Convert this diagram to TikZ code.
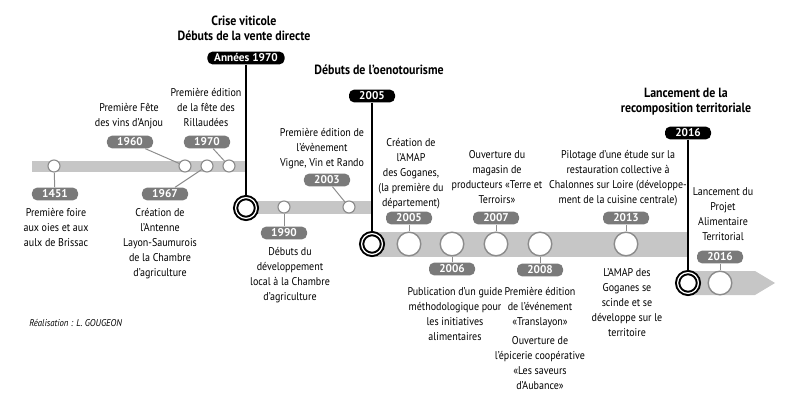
\documentclass[tikz,border=0pt]{standalone}
\usepackage{fontspec}
\setmainfont{PT Sans}[FakeStretch=0.89]
\newfontfamily\pillfont{PT Sans}
\usepackage{xcolor}
\definecolor{BandGray}{RGB}{198,198,198}
\definecolor{PillGray}{RGB}{122,122,122}
\definecolor{RingGray}{RGB}{140,140,140}
\usepackage{tikz}
\usetikzlibrary{positioning}

\begin{document}
\begin{tikzpicture}[
  x=0.025cm, y=-0.025cm,
  band/.style={
    fill=BandGray},
  dot/.style={
    circle, draw=RingGray, fill=white,
    line width=0.8pt, inner sep=0pt,
    minimum size=0.3cm},
  bigdot/.style={
    dot, line width=1pt,
    minimum size=0.59cm},
  milestone/.style={
    circle, draw=black, fill=white,
    double=white, double distance=0.9pt,
    line width=1.4pt, inner sep=0pt,
    minimum size=0.52cm},
  year/.style={
    fill=PillGray, text=white,
    rounded corners=0.13cm, inner sep=0pt,
    minimum width=1.15cm, minimum height=0.32cm,
    font=\pillfont\fontsize{8}{8}\selectfont\bfseries},
  era/.style={
    year, fill=black},
  event/.style={
    align=center, anchor=north, inner sep=0pt,
    font=\fontsize{8}{10.7}\selectfont},
  headline/.style={
    event, font=\fontsize{9.5}{10.7}\selectfont\bfseries},
  link/.style={
    RingGray, line width=0.7pt},
  mline/.style={
    black, line width=1.2pt}
]
\useasboundingbox (0,0) rectangle (800,407);

\fill[band] (32,161) rectangle (246,172);
\fill[band] (246,201) rectangle (372,214);
\fill[band] (372,232) rectangle (688,257);
\fill[band] (688,271) -- (755,271) -- (775,283)
  -- (755,295) -- (688,295) -- cycle;

\node[dot] (c1451) at (54,166) {};
\node[dot] (c1960) at (185,166) {};
\node[dot] (c1967) at (207,166) {};
\node[dot] (c1970) at (229,166) {};
\node[dot] (c1990) at (284,207) {};
\node[dot] (c2003) at (349,207) {};
\node[bigdot] (c2005) at (409,244) {};
\node[bigdot] (c2006) at (452,244) {};
\node[bigdot] (c2007) at (496,244) {};
\node[bigdot] (c2008) at (540,244) {};
\node[bigdot] (c2013) at (626,244) {};
\node[bigdot] (c2016) at (720,283) {};

\node[milestone] (b1970) at (246,208) {};
\node[milestone] (b2005) at (372,244) {};
\node[milestone] (b2016) at (688,283) {};

\node[year] (p1451) at (55,194) {1451};
\node[year] (p1960) at (130,142) {1960};
\node[year] (p1970) at (207,142) {1970};
\node[year] (p1967) at (165,194) {1967};
\node[year] (p1990) at (284,233) {1990};
\node[year] (p2003) at (327,180) {2003};
\node[year] (p2005) at (409,218) {2005};
\node[year] (p2006) at (452,269) {2006};
\node[year] (p2007) at (496,218) {2007};
\node[year] (p2008) at (540,270) {2008};
\node[year] (p2013) at (626,218) {2013};
\node[year] (p2016) at (720,257) {2016};

\node[era, minimum width=1.93cm] (m1970) at (246,58) {Années 1970};
\node[era] (m2005) at (372,96) {2005};
\node[era] (m2016) at (688,133) {2016};

\foreach \p/\c in
  {p1451/c1451,p1960/c1960,p1970/c1970,p1967/c1967,
   p1990/c1990,p2003/c2003,p2005/c2005,p2006/c2006,
   p2007/c2007,p2008/c2008,p2013/c2013,p2016/c2016}{
  \draw[link] (\p) -- (\c);
}
\foreach \m/\b in
  {m1970/b1970,m2005/b2005,m2016/b2016}{
  \draw[mline] (\m) -- (\b);
}

\node[headline] (h1970) at (244,16)
  {Crise viticole\\Débuts de la vente directe};
\node[headline] (h2005) at (379,65)
  {Débuts de l’oenotourisme};
\node[headline] (h2016) at (686,88)
  {Lancement de la\\recomposition territoriale};

\node[event] (t1960) at (129,103)
  {Première Fête\\des vins d’Anjou};
\node[event] (t1970) at (206,88)
  {Première édition\\de la fête des\\Rillaudées};
\node[event] (t1451) at (56,208)
  {Première foire\\aux oies et aux\\aulx de Brissac};
\node[event] (t1967) at (160,208)
  {Création de\\l’Antenne\\Layon-Saumurois\\de la Chambre\\d’agriculture};
\node[event] (t2003) at (322,128)
  {Première édition de\\l’évènement\\Vigne, Vin et Rando};
\node[event] (t1990) at (290,247)
  {Débuts du\\développement\\local à la Chambre\\d’agriculture};
\node[event] (t2005) at (411,138)
  {Création de\\l’AMAP\\des Goganes,\\(la première du\\département)};
\node[event] (t2006) at (455,287)
  {Publication d’un guide\\méthodologique pour\\les initiatives\\alimentaires};
\node[event] (t2007) at (497,150)
  {Ouverture du\\magasin de\\producteurs «Terre et\\Terroirs»};
\node[event] (t2008) at (540,287)
  {Première édition\\de l’événement\\«Translayon»\\[3pt]Ouverture de\\l’épicerie coopérative\\«Les saveurs\\d’Aubance»};
\node[event] (t2013a) at (618,150)
  {Pilotage d’une étude sur la\\restauration collective à\\Chalonnes sur Loire (développe-\\ment de la cuisine centrale)};
\node[event] (t2013b) at (627,268)
  {L’AMAP des\\Goganes se\\scinde et se\\développe sur le\\territoire};
\node[event] (t2016) at (723,187)
  {Lancement du\\Projet\\Alimentaire\\Territorial};

\node[anchor=west, inner sep=0pt,
  font=\fontsize{7}{8}\selectfont\itshape] (credit) at (29,323)
  {Réalisation : L. GOUGEON};
\end{tikzpicture}
\end{document}
